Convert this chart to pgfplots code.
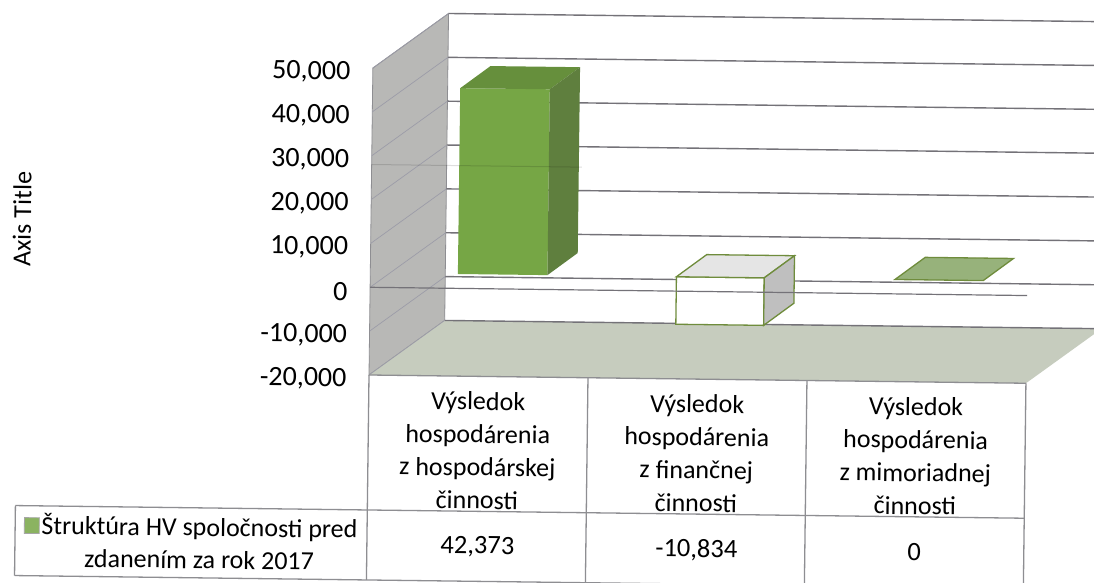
\documentclass[border=0pt]{standalone}
\usepackage{pgfplots}
\pgfplotsset{compat=1.18}
\usepackage{fontspec}
\setmainfont{Carlito}
\definecolor{wallc}{HTML}{B8B8B6}
\definecolor{floorc}{HTML}{C6CCBE}
\definecolor{gridc}{HTML}{747278}
\definecolor{wgrid}{HTML}{9C9CA8}
\definecolor{tabc}{HTML}{8E8E92}
\definecolor{barf}{HTML}{76A645}
\definecolor{bart}{HTML}{668F3C}
\definecolor{bars}{HTML}{5F7F3E}
\definecolor{edgeg}{HTML}{6F8C3C}
\definecolor{zerof}{HTML}{97B27B}
\begin{document}
\begin{tikzpicture}
\path[use as bounding box] (0,0) rectangle (1094pt,583pt);
\clip (0,0) rectangle (1094pt,583pt);
\fill[white] (0,0) rectangle (1094pt,583pt);
\begin{scope}[shift={(369pt,208pt)},rotate=-0.72]
\begin{axis}[
  at={(0pt,0pt)}, anchor=south west,
  scale only axis, width=657pt, height=307pt,
  xmin=0, xmax=3, ymin=-20000, ymax=50000,
  clip=false,
  axis line style={draw=none},
  major tick length=0pt,
  xtick={0.5,1.5,2.5},
  xticklabels={{Výsledok\\hospodárenia\\z hospodárskej\\činnosti},{Výsledok\\hospodárenia\\z finančnej\\činnosti},{Výsledok\\hospodárenia\\z mimoriadnej\\činnosti}},
  x tick label style={align=center, anchor=north, yshift=-12pt, font=\fontsize{26}{33}\selectfont},
  ytick={-20000,-10000,0,10000,20000,30000,40000,50000},
  y tick label style={anchor=east, xshift=-19pt, yshift=-4.5pt, font=\fontsize{28}{30}\selectfont,
    /pgf/number format/.cd, 1000 sep={,}, assume math mode=true},
  scaled y ticks=false,
  ylabel={Axis Title},
  every axis y label/.style={at={(rel axis cs:-0.531,0.494)},rotate=90,anchor=center,font=\fontsize{26}{28}\selectfont},
  no markers,
]
% walls
\addplot[fill=wallc,draw=tabc,line width=0.8pt] coordinates {(0,-20000)(0,50000)(0.3425,62654)(0.3425,-7346)} --cycle;
\addplot[fill=floorc,draw=none] coordinates {(0,-20000)(3,-20000)(3.3425,-7346)(0.3425,-7346)} --cycle;
% gridlines on the back wall and the side wall
\pgfplotsinvokeforeach{-20000,-10000,0,10000,20000,30000,40000,50000}{
  \addplot[gridc,line width=1.4pt,xshift=75pt,yshift=55.5pt] coordinates {(0,#1)(3,#1)};
  \draw[wgrid,line width=0.7pt] (axis cs:0,#1) -- ++(75pt,55.5pt);
}
% bar 1
\addplot[fill=barf,draw=none,xshift=19.5pt,yshift=14.4pt] coordinates {(0.311,0)(0.311,42373)(0.72,42373)(0.72,0)} --cycle;
\addplot[fill=bart,draw=none,xshift=19.5pt,yshift=14.4pt] coordinates {(0.311,42373)(0.72,42373)(0.857,47503)(0.448,47503)} --cycle;
\addplot[fill=bars,draw=none,xshift=19.5pt,yshift=14.4pt] coordinates {(0.72,0)(0.72,42373)(0.857,47503)(0.857,5130)} --cycle;
% bar 2
\addplot[fill=white,draw=edgeg,line width=1.3pt,xshift=19.5pt,yshift=14.4pt] coordinates {(1.309,0)(1.71,0)(1.71,-10834)(1.309,-10834)} --cycle;
\addplot[fill=black!10,draw=edgeg,line width=1.3pt,xshift=19.5pt,yshift=14.4pt] coordinates {(1.309,0)(1.71,0)(1.847,5130)(1.446,5130)} --cycle;
\addplot[fill=black!25,draw=edgeg,line width=1.3pt,xshift=19.5pt,yshift=14.4pt] coordinates {(1.71,0)(1.71,-10834)(1.847,-5704)(1.847,5130)} --cycle;
% bar 3
\addplot[fill=zerof,draw=edgeg,line width=1.3pt,xshift=19.5pt,yshift=14.4pt] coordinates {(2.307,0)(2.71,0)(2.847,5130)(2.444,5130)} --cycle;
% front lines
\addplot[gridc,line width=1.2pt] coordinates {(0,0)(3,0)};
\addplot[black,opacity=0.13,line width=1pt] coordinates {(0,28000)(0.96,28000)};
% data table
\addplot[tabc,line width=1.3pt] coordinates {(0,-20000)(3,-20000)};
\addplot[tabc,line width=1.3pt] coordinates {(-1.607,-50780)(3,-50780)};
\addplot[tabc,line width=1.3pt] coordinates {(-1.607,-66740)(3,-66740)};
\addplot[tabc,line width=1.3pt] coordinates {(-1.607,-50780)(-1.607,-66740)};
\addplot[tabc,line width=1.3pt] coordinates {(0,-20000)(0,-66740)};
\addplot[tabc,line width=1.3pt] coordinates {(1,-20000)(1,-66740)};
\addplot[tabc,line width=1.3pt] coordinates {(2,-20000)(2,-66740)};
\addplot[tabc,line width=1.3pt] coordinates {(3,-20000)(3,-66740)};
\addplot[fill=barf!85!white,draw=black!35,line width=0.8pt] coordinates {(-1.565,-53500)(-1.497,-53500)(-1.497,-57100)(-1.565,-57100)} --cycle;
\node[font=\fontsize{26}{32.5}\selectfont,align=center,anchor=center] at (axis cs:-0.765,-58500) {Štruktúra HV spoločnosti pred\\zdanením za rok 2017};
\node[font=\fontsize{26.5}{30}\selectfont] at (axis cs:0.505,-58900) {42,373};
\node[font=\fontsize{26.5}{30}\selectfont] at (axis cs:1.505,-58900) {-10,834};
\node[font=\fontsize{26.5}{30}\selectfont] at (axis cs:2.5,-58900) {0};
\end{axis}
\end{scope}
\end{tikzpicture}
\end{document}
